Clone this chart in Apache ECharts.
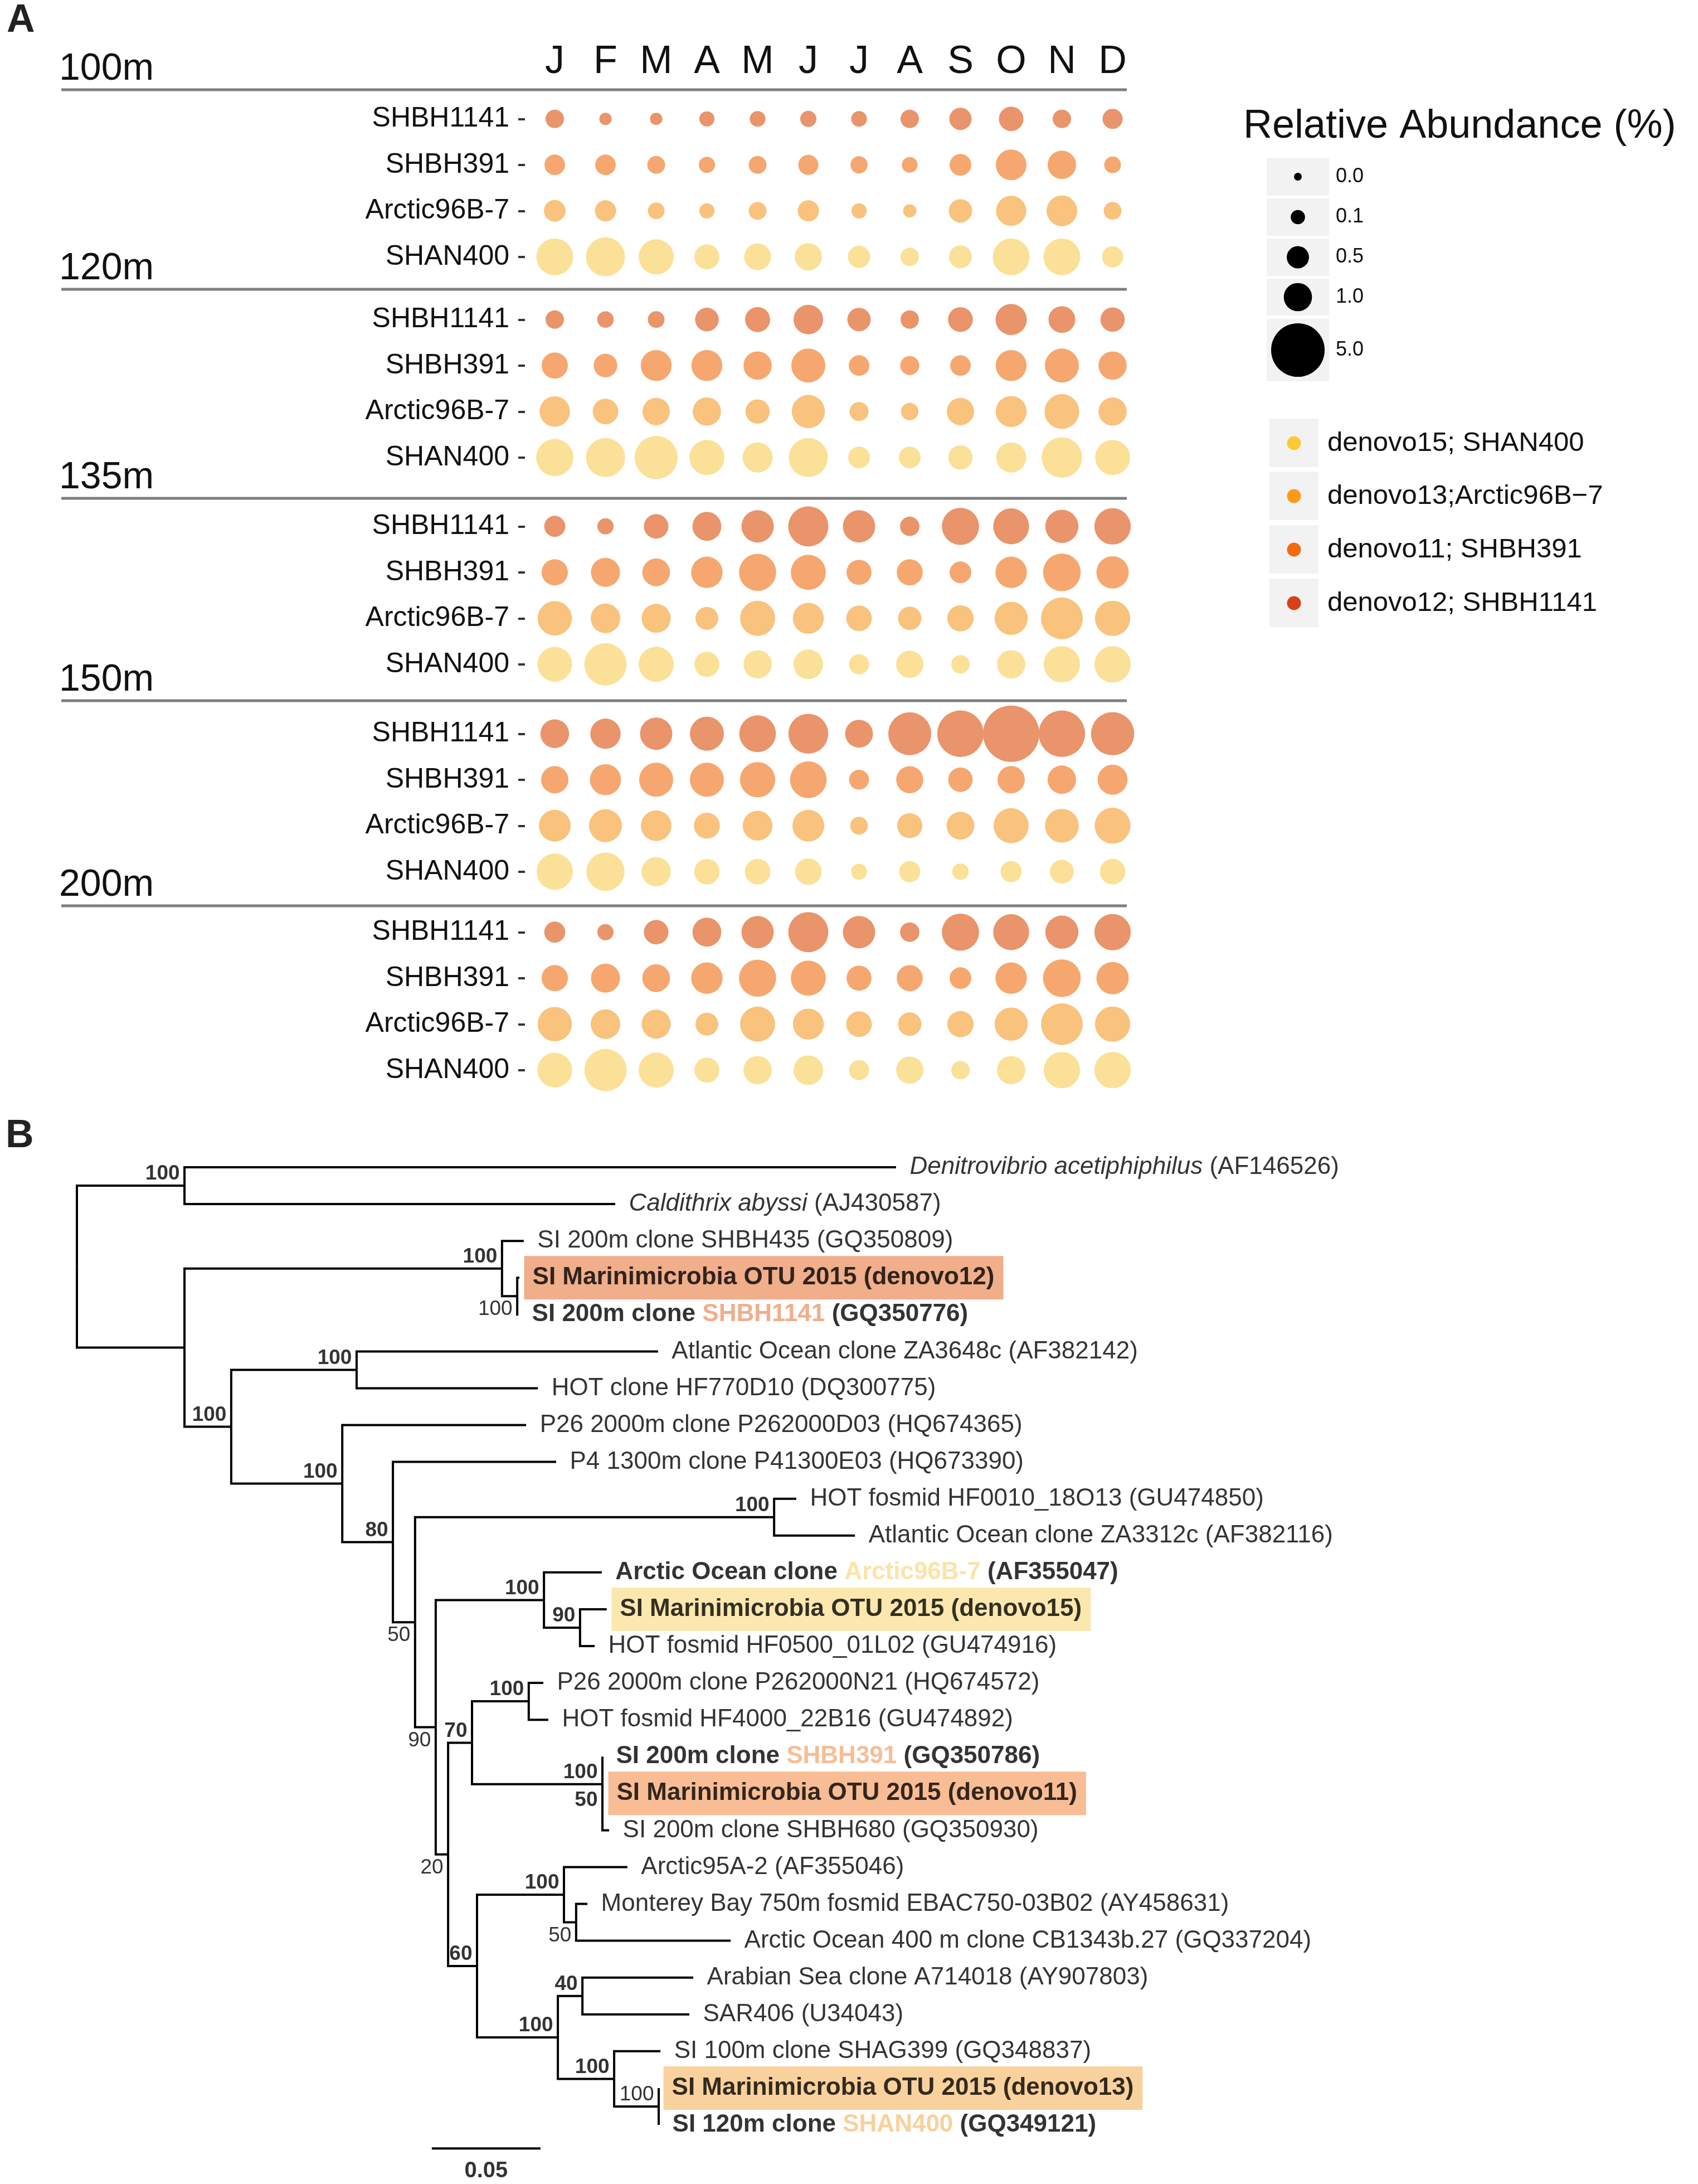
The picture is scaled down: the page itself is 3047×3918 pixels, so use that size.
<!DOCTYPE html>
<html><head><meta charset="utf-8">
<script src="https://cdn.jsdelivr.net/npm/echarts@6/dist/echarts.min.js"></script>
<style>html,body{margin:0;padding:0;background:#fff}#c{width:3047px;height:3918px}</style>
</head><body><div id="c"></div>
<script>
// ---------------- DATA: panel A ----------------
const months = ['J','F','M','A','M','J','J','A','S','O','N','D'];
const taxa = ['SHBH1141','SHBH391','Arctic96B-7','SHAN400'];
const depths = ['100m','120m','135m','150m','200m'];
// relative abundance (%), rows follow taxa order, columns follow months
const abund100m = [
  [0.27,0.05,0.05,0.13,0.15,0.17,0.15,0.27,0.50,0.67,0.27,0.36],
  [0.39,0.39,0.24,0.17,0.24,0.36,0.21,0.15,0.46,1.25,1.02,0.19],
  [0.46,0.43,0.19,0.13,0.24,0.43,0.13,0.07,0.58,1.19,1.25,0.24],
  [2.01,2.33,1.78,0.71,0.86,0.91,0.50,0.27,0.54,2.01,2.01,0.43]];
const abund120m = [
  [0.27,0.18,0.19,0.60,0.71,1.13,0.58,0.27,0.69,1.31,0.86,0.65],
  [0.81,0.60,1.28,1.28,1.00,1.64,0.39,0.30,0.39,1.28,1.64,1.00],
  [1.22,0.76,0.91,1.00,0.65,1.53,0.30,0.22,0.91,1.28,1.73,1.00],
  [2.06,2.33,2.98,1.77,1.19,2.33,0.46,0.46,0.65,1.19,2.54,1.77]];
const abund135m = [
  [0.42,0.17,0.67,1.06,1.44,2.50,1.44,0.32,2.06,1.88,1.53,1.95],
  [0.82,1.08,0.95,1.34,2.06,1.77,0.71,0.80,0.46,1.34,2.13,1.44],
  [1.67,1.13,1.08,0.54,1.77,1.28,0.76,0.58,0.82,1.53,2.75,1.80],
  [1.73,2.84,1.77,0.71,1.00,1.13,0.36,0.90,0.27,1.00,1.95,1.95]];
const abund150m = [
  [1.04,1.21,1.44,1.64,1.99,2.45,0.96,2.95,3.57,5.62,3.57,3.00],
  [0.91,1.29,1.64,1.64,1.80,1.99,0.35,0.89,0.66,0.91,1.02,1.18],
  [1.37,1.50,1.24,0.79,1.15,1.37,0.24,0.72,0.96,1.78,1.61,1.88],
  [1.92,2.21,1.10,0.75,0.75,0.84,0.16,0.43,0.18,0.43,0.62,0.75]];
const abund200m = [
  [0.42,0.17,0.67,1.06,1.44,2.50,1.44,0.32,2.06,1.88,1.53,1.95],
  [0.82,1.08,0.95,1.34,2.06,1.77,0.71,0.80,0.46,1.34,2.13,1.44],
  [1.67,1.13,1.08,0.54,1.77,1.28,0.76,0.58,0.82,1.53,2.75,1.80],
  [1.73,2.84,1.77,0.71,1.00,1.13,0.36,0.90,0.27,1.00,1.95,1.95]];
const sizeBreaks = [0.0, 0.1, 0.5, 1.0, 5.0];
const sizeBreakLabels = ['0.0','0.1','0.5','1.0','5.0'];
const otuLegend = ['denovo15; SHAN400','denovo13;Arctic96B\u22127','denovo11; SHBH391','denovo12; SHBH1141'];

// ---------------- DATA: panel B (tree) ----------------
const nodeIds = ['root','A','Denitrovibrio','Caldithrix','B','N12','SHBH435','N12b','denovo12','SHBH1141','C','D','ZA3648c','HF770D10','E','P262000D03','F','P41300E03','G','H','HF0010_18O13','ZA3312c','I','J','Arctic96B-7','K','denovo15','HF0500_01L02','L','M','N','P262000N21','HF4000_22B16','O','SHBH391','O2','denovo11','SHBH680','P','Q','Arctic95A-2','R','EBAC750-03B02','CB1343b.27','S','T','A714018','SAR406','U','SHAG399','V','denovo13','SHAN400'];
const nodeParents = [null,'root','A','A','root','B','N12','N12','N12b','N12b','B','C','D','D','C','E','E','F','F','G','H','H','G','I','J','J','K','K','I','L','M','N','N','M','O','O','O2','O2','L','P','Q','Q','R','R','P','S','T','T','S','U','U','V','V'];
const nodeDepths = [0,0.0495,0.3769,0.2477,0.0495,0.1956,0.2056,0.2026,0.2036,0.2031,0.0710,0.1287,0.2674,0.2121,0.1221,0.2067,0.1454,0.2205,0.1556,0.3208,0.3310,0.3580,0.1651,0.2149,0.2415,0.2315,0.2438,0.2382,0.1708,0.1818,0.2079,0.2146,0.2169,0.2418,0.2418,0.2418,0.2423,0.2449,0.1841,0.2241,0.2533,0.2297,0.2349,0.3008,0.2213,0.2326,0.2836,0.2818,0.2472,0.2685,0.2677,0.2677,0.2677];
const nodeSupport = [null,100,null,null,null,100,null,100,null,null,100,100,null,null,100,null,80,null,50,100,null,null,90,100,null,90,null,null,20,70,100,null,null,100,null,50,null,null,60,100,null,50,null,null,100,40,null,null,100,null,100,null,null];
// leaf labels, top to bottom: [style, text] segments
const leafLabels = [
  [['i','Denitrovibrio acetiphiphilus'],['n',' (AF146526)']],
  [['i','Caldithrix abyssi'],['n',' (AJ430587)']],
  [['n','SI 200m clone SHBH435 (GQ350809)']],
  [['b','SI Marinimicrobia OTU 2015 (denovo12)']],
  [['b','SI 200m clone '],['c1','SHBH1141'],['b',' (GQ350776)']],
  [['n','Atlantic Ocean clone ZA3648c (AF382142)']],
  [['n','HOT clone HF770D10 (DQ300775)']],
  [['n','P26 2000m clone P262000D03 (HQ674365)']],
  [['n','P4 1300m clone P41300E03 (HQ673390)']],
  [['n','HOT fosmid HF0010_18O13 (GU474850)']],
  [['n','Atlantic Ocean clone ZA3312c (AF382116)']],
  [['b','Arctic Ocean clone '],['c3','Arctic96B-7'],['b',' (AF355047)']],
  [['b','SI Marinimicrobia OTU 2015 (denovo15)']],
  [['n','HOT fosmid HF0500_01L02 (GU474916)']],
  [['n','P26 2000m clone P262000N21 (HQ674572)']],
  [['n','HOT fosmid HF4000_22B16 (GU474892)']],
  [['b','SI 200m clone '],['c2','SHBH391'],['b',' (GQ350786)']],
  [['b','SI Marinimicrobia OTU 2015 (denovo11)']],
  [['n','SI 200m clone SHBH680 (GQ350930)']],
  [['n','Arctic95A-2 (AF355046)']],
  [['n','Monterey Bay 750m fosmid EBAC750-03B02 (AY458631)']],
  [['n','Arctic Ocean 400 m clone CB1343b.27 (GQ337204)']],
  [['n','Arabian Sea clone A714018 (AY907803)']],
  [['n','SAR406 (U34043)']],
  [['n','SI 100m clone SHAG399 (GQ348837)']],
  [['b','SI Marinimicrobia OTU 2015 (denovo13)']],
  [['b','SI 120m clone '],['c4','SHAN400'],['b',' (GQ349121)']]];
const scaleBarLength = 0.05;

// ---------------- STYLE / LAYOUT ----------------
const FONT = '"Liberation Sans", Arial, Helvetica, sans-serif';
const TXT = '#111';
const TREE_TXT = '#000';
const abundSets = [abund100m, abund120m, abund135m, abund150m, abund200m];
const bubbleColors = ['#E9946A','#F5A76F','#F9C27D','#FBE097'];
const otuColors = ['#FDC935','#FD9A17','#F26B12','#D9401A'];
const gridTops = [172, 532, 903, 1275, 1631];
const dividerY = [161, 519, 894, 1257, 1625];
const highlightColors = {denovo12:'#EC9A6E', denovo15:'#FBE29B', denovo11:'#F6AD79', denovo13:'#F7C584'};
const supportBelow = ['N12b','G','I','L','R'];
const supportNormal = ['N12b','G','I','L','R','V'];
const sizeOf = v => 14 + 36.7 * Math.sqrt(v);

// ---------------- tree layout (y from leaf order) ----------------
const idx = {}; nodeIds.forEach((id,i)=> idx[id]=i);
const children = {}; nodeIds.forEach(id=>children[id]=[]);
nodeParents.forEach((p,i)=>{ if(p) children[p].push(nodeIds[i]); });
const leaves = nodeIds.filter(id=>children[id].length===0);
const yOf = {}; leaves.forEach((id,k)=> yOf[id]=k);
function layY(id){ if(yOf[id]!==undefined) return yOf[id];
  const ch = children[id]; const a = layY(ch[0]), b = layY(ch[ch.length-1]);
  yOf[id] = (a+b)/2; return yOf[id]; }
layY('root');
const depthOf = id => nodeDepths[idx[id]];

// ---------------- option ----------------
const grids = gridTops.map(t=>({left:950, width:1092, top:t, height:330}));
grids.push({left:138, width:1950, top:2094, height:1718});

const xAxes = depths.map((d,i)=>({gridIndex:i, type:'category', data:months, position:'top', boundaryGap:true,
  axisLine:{show:false}, axisTick:{show:false}, splitLine:{show:false},
  axisLabel:{show:i===0, fontSize:70, color:TXT, fontFamily:FONT, margin:60, verticalAlign:'middle'}}));
xAxes.push({gridIndex:5, type:'value', min:0, max:0.5, show:false});
const yAxes = depths.map((d,i)=>({gridIndex:i, type:'category', data:taxa, inverse:true, offset:8,
  axisLine:{show:false}, splitLine:{show:false},
  axisTick:{show:true, length:12, alignWithLabel:true, lineStyle:{color:'#333', width:4}},
  axisLabel:{fontSize:50, color:TXT, fontFamily:FONT, margin:28}}));
yAxes.push({gridIndex:5, type:'value', min:0, max:26, inverse:true, show:false});

const series = [];
abundSets.forEach((set, g)=>{
  taxa.forEach((t, r)=>{
    series.push({type:'scatter', name:t, xAxisIndex:g, yAxisIndex:g, silent:true,
      data: set[r].map((v,m)=>[m, r, v]),
      symbolSize: val => sizeOf(val[2]),
      itemStyle:{color:bubbleColors[r], opacity:1}, emphasis:{disabled:true}});
  });
});

// tree branches
const edgeData = nodeIds.filter(id=>nodeParents[idx[id]]).map(id=>{
  const p = nodeParents[idx[id]];
  return [depthOf(id), yOf[id], depthOf(p), yOf[p]];
});
series.push({type:'custom', xAxisIndex:5, yAxisIndex:5, silent:true, clip:false, data:edgeData,
  renderItem:(params, api)=>{
    const c = api.coord([api.value(0), api.value(1)]);
    const p = api.coord([api.value(2), api.value(3)]);
    return {type:'polyline', shape:{points:[[p[0],p[1]],[p[0],c[1]],[c[0],c[1]]]},
      style:{stroke:'#000', lineWidth:4, fill:null, lineJoin:'miter'}};
  }});

// leaf labels
const richBase = {fontSize:44, fontFamily:FONT, color:TREE_TXT};
const leafData = leaves.map((id,k)=>{
  const it = {value:[depthOf(id), yOf[id], k]};
  if (highlightColors[id]) it.label = {backgroundColor:highlightColors[id], padding:[17,16,17,15], distance:8};
  return it;
});
series.push({type:'scatter', xAxisIndex:5, yAxisIndex:5, silent:true, clip:false, data:leafData, symbolSize:1,
  itemStyle:{color:'rgba(0,0,0,0)'}, emphasis:{disabled:true},
  label:{show:true, position:'right', distance:24, fontSize:44, fontFamily:FONT, color:TREE_TXT,
    formatter: p => leafLabels[p.value[2]].map(s=>'{'+s[0]+'|'+s[1]+'}').join(''),
    rich:{
      n:Object.assign({}, richBase),
      i:Object.assign({fontStyle:'italic'}, richBase),
      b:Object.assign({}, richBase, {fontWeight:'bold'}),
      c1:Object.assign({}, richBase, {fontWeight:'bold', color:'#EC9A6E'}),
      c2:Object.assign({}, richBase, {fontWeight:'bold', color:'#F5AC78'}),
      c3:Object.assign({}, richBase, {fontWeight:'bold', color:'#FBDC91'}),
      c4:Object.assign({}, richBase, {fontWeight:'bold', color:'#F7C485'})
    }}});

// bootstrap support labels
const supData = nodeIds.filter(id=>nodeSupport[idx[id]]!==null).map(id=>{
  const below = supportBelow.indexOf(id)>=0;
  return {value:[depthOf(id), yOf[id], nodeSupport[idx[id]]],
    label:{position: below ? [-8, 6] : [-8, -2], verticalAlign: below ? 'top' : 'bottom',
      fontWeight: supportNormal.indexOf(id)>=0 ? 'normal' : 'bold'}};
});
series.push({type:'scatter', xAxisIndex:5, yAxisIndex:5, silent:true, clip:false, data:supData, symbolSize:1,
  itemStyle:{color:'rgba(0,0,0,0)'}, emphasis:{disabled:true},
  label:{show:true, align:'right', fontSize:37, fontFamily:FONT, color:TREE_TXT, formatter: p => String(p.value[2])}});

// scale bar
const sbX = 0.1633, sbY = 26.64;
series.push({type:'line', xAxisIndex:5, yAxisIndex:5, silent:true, clip:false, symbol:'none',
  data:[[sbX, sbY],[sbX+scaleBarLength, sbY]], lineStyle:{color:'#000', width:4}, emphasis:{disabled:true}});
series.push({type:'scatter', xAxisIndex:5, yAxisIndex:5, silent:true, clip:false, symbolSize:1,
  itemStyle:{color:'rgba(0,0,0,0)'}, data:[[sbX+scaleBarLength/2, sbY+0.61]], emphasis:{disabled:true},
  label:{show:true, position:'inside', fontSize:40, fontWeight:'bold', fontFamily:FONT, color:TREE_TXT, formatter:()=>String(scaleBarLength)}});

// ---------------- graphics: panel letters, dividers, depth labels, legends ----------------
function txt(x,y,text,size,opts){ opts=opts||{};
  return {type:'text', x:x, y:y, silent:true, z:10, style:{text:text, fontSize:size, fontFamily:FONT,
    fill:opts.fill||TXT, fontWeight:opts.weight||'normal', align:opts.align||'left', verticalAlign:'middle',
    textAlign:opts.align||'left', textVerticalAlign:'middle'}}; }
const graphic = [];
graphic.push(txt(12, 38, 'A', 70, {weight:'bold', fill:'#222'}));
graphic.push(txt(10, 2039, 'B', 70, {weight:'bold', fill:'#222'}));
dividerY.forEach((y,i)=>{
  graphic.push({type:'line', silent:true, shape:{x1:110, y1:y, x2:2022, y2:y}, style:{stroke:'#7F7F7F', lineWidth:5}});
  graphic.push(txt(106, y-37, depths[i], 68, {fill:'#111'}));
});
// size legend
graphic.push(txt(2231, 227, 'Relative Abundance (%)', 72, {fill:'#111'}));
const sizeBoxes = [[283,68],[356,67],[428,67],[500,66],[572,112]];
sizeBreaks.forEach((v,i)=>{
  const b = sizeBoxes[i], cy = b[0]+b[1]/2;
  graphic.push({type:'rect', silent:true, shape:{x:2273, y:b[0], width:112, height:b[1]}, style:{fill:'#F2F2F2'}});
  graphic.push({type:'circle', silent:true, shape:{cx:2329, cy:cy, r:sizeOf(v)/2}, style:{fill:'#000'}});
  graphic.push(txt(2397, cy, sizeBreakLabels[i], 36, {fill:'#111'}));
});
// colour legend
const colBoxY = [751, 846, 942, 1038];
otuLegend.forEach((lab,i)=>{
  graphic.push({type:'rect', silent:true, shape:{x:2278, y:colBoxY[i], width:88, height:87}, style:{fill:'#F2F2F2'}});
  graphic.push({type:'circle', silent:true, shape:{cx:2322, cy:colBoxY[i]+44, r:12.5}, style:{fill:otuColors[i]}});
  graphic.push(txt(2382, colBoxY[i]+44, lab, 49, {fill:'#111'}));
});

const chart = echarts.init(document.getElementById('c'), null, {renderer:'canvas'});
chart.setOption({
  animation:false, backgroundColor:'#ffffff',
  textStyle:{fontFamily:FONT},
  grid:grids, xAxis:xAxes, yAxis:yAxes, series:series, graphic:graphic
});
</script></body></html>
